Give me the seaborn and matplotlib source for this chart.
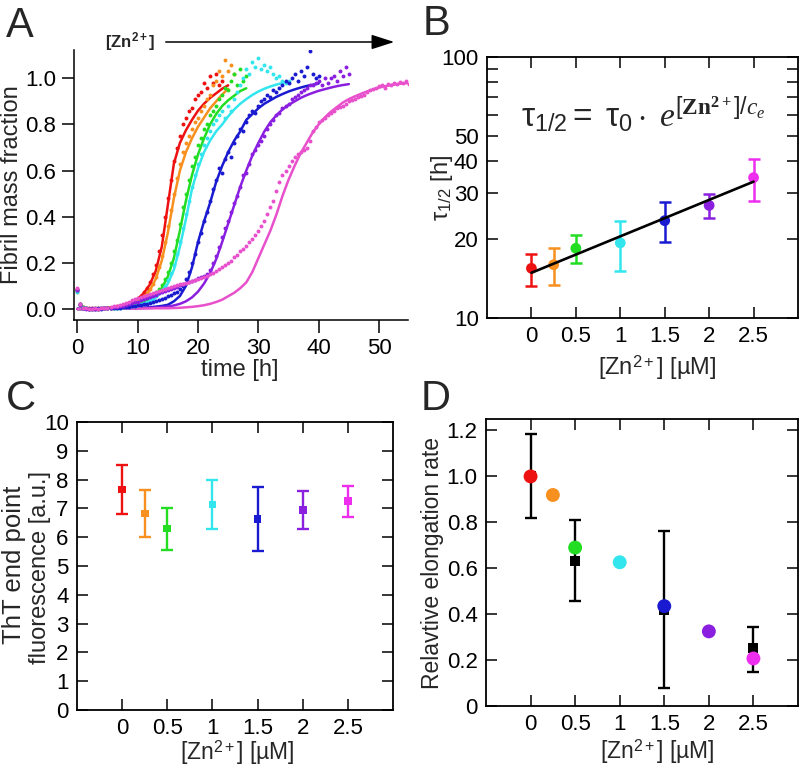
import numpy as np
import matplotlib
matplotlib.use('Agg')
import matplotlib.pyplot as plt
import matplotlib.ticker as mticker
import seaborn as sns

# --- colours, one per Zn2+ concentration ---
colors = ['#ee1111', '#f7901e', '#22dd22', '#33e6ee', '#1a1ad0', '#8b1fe0', '#ee2eee']
colors_a = ['#ee1111', '#f7901e', '#22dd22', '#33e6ee', '#1a1ad0', '#8b1fe0', '#e850cc']

# --- panel A: kinetic traces (0.5 h spacing) and fits (1 h spacing) ---
data_t = [i * 0.5 for i in range(111)]
fit_t = list(range(56))

red_data = [0.085, 0.02, 0.008, 0.004, 0.002, 0.0, 0.003, 0.001, 0.004, 0.003, 0.006, 0.005, 0.009, 0.011,
            0.014, 0.016, 0.021, 0.024, 0.031, 0.036, 0.046, 0.056, 0.072, 0.09, 0.115, 0.15, 0.19, 0.25,
            0.32, 0.40, 0.48, 0.56, 0.64, 0.70, 0.75, 0.80, 0.83, 0.86, 0.87, 0.91, 0.93, 0.94, 0.98, 0.96,
            1.01, 0.98, 1.02, 0.97, 0.99]
orange_data = [0.075, 0.018, 0.006, 0.003, 0.001, 0.002, 0.0, 0.003, 0.002, 0.004, 0.004, 0.006, 0.007, 0.009,
               0.011, 0.013, 0.016, 0.019, 0.024, 0.028, 0.035, 0.043, 0.055, 0.068, 0.085, 0.11, 0.14, 0.18,
               0.23, 0.29, 0.36, 0.43, 0.50, 0.57, 0.63, 0.68, 0.72, 0.75, 0.78, 0.81, 0.83, 0.86, 0.88, 0.91,
               0.93, 0.97, 0.99, 1.03, 1.01, 1.08, 1.03, 1.06, 1.02]
green_data = [0.08, 0.02, 0.007, 0.002, 0.001, 0.0, 0.002, 0.001, 0.003, 0.002, 0.003, 0.004, 0.005, 0.006,
              0.007, 0.009, 0.011, 0.013, 0.016, 0.019, 0.023, 0.028, 0.034, 0.041, 0.05, 0.06, 0.072, 0.087,
              0.105, 0.13, 0.16, 0.20, 0.25, 0.30, 0.37, 0.44, 0.50, 0.56, 0.62, 0.66, 0.71, 0.74, 0.78, 0.80,
              0.84, 0.86, 0.88, 0.91, 0.93, 0.96, 0.95, 0.99, 1.02, 0.97, 1.04, 0.99, 1.01]
cyan_data = [0.075, 0.018, 0.006, 0.002, 0.0, 0.001, 0.002, 0.0, 0.002, 0.003, 0.003, 0.004, 0.004, 0.005,
             0.006, 0.007, 0.009, 0.01, 0.012, 0.014, 0.017, 0.02, 0.025, 0.03, 0.037, 0.045, 0.055, 0.067,
             0.082, 0.10, 0.125, 0.155, 0.19, 0.24, 0.29, 0.35, 0.41, 0.47, 0.53, 0.58, 0.63, 0.67, 0.71, 0.74,
             0.77, 0.80, 0.82, 0.84, 0.86, 0.83, 0.88, 0.86, 0.91, 0.94, 0.97, 1.0, 1.04, 1.02, 1.07, 1.05,
             1.09, 1.04, 1.06, 1.03, 1.05, 1.02, 1.0, 1.01, 0.99, 0.98, 0.99]
blue_data = [0.08, 0.02, 0.006, 0.002, 0.0, 0.001, 0.0, 0.002, 0.001, 0.003, 0.002, 0.003, 0.004, 0.005,
             0.006, 0.007, 0.008, 0.01, 0.011, 0.013, 0.015, 0.017, 0.02, 0.023, 0.026, 0.03, 0.034, 0.038,
             0.043, 0.048, 0.054, 0.06, 0.067, 0.075, 0.085, 0.10, 0.13, 0.16, 0.20, 0.24, 0.29, 0.33, 0.38,
             0.42, 0.47, 0.52, 0.56, 0.61, 0.59, 0.65, 0.68, 0.66, 0.72, 0.75, 0.78, 0.77, 0.81, 0.84, 0.86,
             0.85, 0.88, 0.90, 0.91, 0.93, 0.92, 0.95, 0.94, 0.96, 0.97, 0.99, 0.98, 1.0, 1.02, 0.99, 1.03,
             1.01, 1.05, 1.12, 1.02, 1.0, 1.01]
purple_data = [0.08, 0.018, 0.005, 0.001, 0.0, 0.002, 0.001, 0.0, 0.002, 0.003, 0.004, 0.005, 0.007, 0.009,
               0.011, 0.014, 0.017, 0.02, 0.024, 0.028, 0.032, 0.037, 0.042, 0.047, 0.052, 0.057, 0.062, 0.067,
               0.072, 0.077, 0.082, 0.087, 0.092, 0.097, 0.102, 0.107, 0.112, 0.117, 0.122, 0.127, 0.132, 0.137,
               0.142, 0.15, 0.17, 0.20, 0.23, 0.27, 0.31, 0.35, 0.38, 0.42, 0.46, 0.49, 0.53, 0.58, 0.59, 0.63,
               0.67, 0.69, 0.71, 0.73, 0.75, 0.78, 0.80, 0.82, 0.84, 0.85, 0.87, 0.88, 0.89, 0.91, 0.92, 0.93,
               0.94, 0.95, 0.96, 0.97, 0.97, 0.98, 0.99, 0.97, 1.0, 0.98, 1.0, 1.01, 0.99, 1.03, 1.01, 1.05, 1.02]
magenta_data = [0.09, 0.02, 0.006, 0.002, 0.001, 0.0, 0.002, 0.001, 0.003, 0.004, 0.006, 0.008, 0.011, 0.014,
                0.018, 0.022, 0.027, 0.032, 0.037, 0.042, 0.047, 0.052, 0.057, 0.062, 0.066, 0.07, 0.074, 0.078,
                0.082, 0.086, 0.09, 0.094, 0.098, 0.102, 0.106, 0.11, 0.114, 0.118, 0.122, 0.126, 0.13, 0.134,
                0.139, 0.144, 0.15, 0.157, 0.165, 0.173, 0.182, 0.19, 0.20, 0.21, 0.225, 0.235, 0.25, 0.26,
                0.275, 0.29, 0.305, 0.32, 0.34, 0.36, 0.38, 0.41, 0.44, 0.47, 0.51, 0.55, 0.58, 0.60, 0.62, 0.64,
                0.66, 0.67, 0.68, 0.69, 0.70, 0.73, 0.77, 0.79, 0.81, 0.82, 0.83, 0.84, 0.85, 0.86, 0.87, 0.875,
                0.88, 0.89, 0.90, 0.905, 0.91, 0.92, 0.925, 0.93, 0.94, 0.95, 0.955, 0.96, 0.965, 0.97, 0.96,
                0.975, 0.97, 0.98, 0.975, 0.985, 0.98, 0.99, 0.975]

red_fit = [0.0, 0.0, 0.0, 0.002, 0.003, 0.005, 0.008, 0.012, 0.018, 0.028, 0.043, 0.068, 0.105, 0.165, 0.27,
           0.45, 0.63, 0.72, 0.775, 0.82, 0.86, 0.89, 0.915, 0.935, 0.955, 0.97]
orange_fit = [0.0, 0.0, 0.0, 0.002, 0.003, 0.004, 0.006, 0.009, 0.013, 0.02, 0.032, 0.05, 0.08, 0.13, 0.21,
              0.33, 0.48, 0.60, 0.68, 0.74, 0.79, 0.83, 0.87, 0.90, 0.93, 0.955]
green_fit = [0.0, 0.0, 0.0, 0.001, 0.002, 0.003, 0.004, 0.006, 0.009, 0.013, 0.02, 0.03, 0.042, 0.06, 0.09,
             0.14, 0.22, 0.34, 0.47, 0.58, 0.67, 0.74, 0.80, 0.845, 0.88, 0.905, 0.925, 0.945, 0.957]
cyan_fit = [0.0, 0.0, 0.0, 0.001, 0.001, 0.002, 0.003, 0.004, 0.006, 0.009, 0.012, 0.02, 0.032, 0.05, 0.075,
            0.11, 0.17, 0.27, 0.39, 0.52, 0.61, 0.68, 0.73, 0.77, 0.80, 0.835, 0.865, 0.89, 0.91, 0.928,
            0.943, 0.955, 0.965, 0.973, 0.98, 0.985]
blue_fit = [0.0, 0.0, 0.0, 0.0, 0.001, 0.001, 0.001, 0.002, 0.002, 0.003, 0.004, 0.005, 0.007, 0.01, 0.013,
            0.018, 0.033, 0.056, 0.10, 0.18, 0.29, 0.38, 0.46, 0.55, 0.62, 0.68, 0.73, 0.77, 0.82, 0.845,
            0.87, 0.89, 0.905, 0.92, 0.932, 0.943, 0.952, 0.96, 0.967, 0.972, 0.978]
purple_fit = [0.0, 0.0, 0.0, 0.0, 0.001, 0.001, 0.001, 0.001, 0.002, 0.002, 0.003, 0.004, 0.005, 0.006, 0.008,
              0.01, 0.015, 0.022, 0.033, 0.05, 0.075, 0.11, 0.155, 0.215, 0.29, 0.37, 0.45, 0.53, 0.60, 0.665,
              0.72, 0.77, 0.81, 0.84, 0.865, 0.885, 0.90, 0.915, 0.927, 0.937, 0.946, 0.953, 0.96, 0.966,
              0.971, 0.975]
magenta_fit = [0.0, 0.0, 0.0, 0.0, 0.0, 0.001, 0.001, 0.001, 0.001, 0.001, 0.002, 0.002, 0.002, 0.003, 0.003,
               0.003, 0.004, 0.005, 0.007, 0.009, 0.012, 0.016, 0.022, 0.03, 0.04, 0.055, 0.07, 0.09, 0.115,
               0.16, 0.22, 0.28, 0.34, 0.41, 0.49, 0.56, 0.62, 0.675, 0.72, 0.765, 0.80, 0.83, 0.855, 0.875,
               0.895, 0.91, 0.922, 0.933, 0.943, 0.952, 0.96, 0.966, 0.971, 0.975, 0.978, 0.98]

traces = [red_data, orange_data, green_data, cyan_data, blue_data, purple_data, magenta_data]
fits = [red_fit, orange_fit, green_fit, cyan_fit, blue_fit, purple_fit, magenta_fit]

# --- panels B-D: concentration series ---
conc = [0, 0.25, 0.5, 1, 1.5, 2, 2.5]
conc_names = ['0', '0.25', '0.5', '1', '1.5', '2', '2.5']
xtick_vals = [0, 0.5, 1, 1.5, 2, 2.5]
xtick_labels = ['0', '0.5', '1', '1.5', '2', '2.5']

tau_half = [15.5, 16.0, 18.5, 19.4, 23.6, 27.0, 34.5]
tau_lo = [13.3, 13.4, 16.2, 15.2, 19.6, 24.2, 28.0]
tau_hi = [17.6, 18.6, 20.8, 23.6, 27.8, 29.9, 40.8]
tau_fit_x = [0, 2.5]
tau_fit_y = [14.9, 33.3]

tht = [7.66, 6.82, 6.30, 7.13, 6.64, 6.94, 7.25]
tht_lo = [6.82, 6.01, 5.57, 6.28, 5.51, 6.28, 6.71]
tht_hi = [8.50, 7.65, 7.03, 8.00, 7.75, 7.61, 7.79]

elong = [1.0, 0.919, 0.690, 0.626, 0.435, 0.325, 0.207]
elong_exp_x = [0, 0.5, 1.5, 2.5]
elong_exp = [1.0, 0.632, 0.417, 0.251]
elong_exp_lo = [0.819, 0.458, 0.077, 0.149]
elong_exp_hi = [1.183, 0.809, 0.761, 0.342]

sns.set_style('ticks')
plt.rcParams['font.family'] = ['Liberation Sans', 'DejaVu Sans']
plt.rcParams['mathtext.fontset'] = 'custom'
plt.rcParams['mathtext.rm'] = 'Liberation Sans'
plt.rcParams['mathtext.it'] = 'Liberation Serif:italic'
plt.rcParams['mathtext.bf'] = 'Liberation Sans:bold'
plt.rcParams['mathtext.sf'] = 'Liberation Serif:bold'
plt.rcParams['axes.linewidth'] = 1.1
plt.rcParams['axes.edgecolor'] = 'black'

W, H = 802, 770
fig = plt.figure(figsize=(W / 100, H / 100), dpi=100)


def box(l, t, r, b):
    return [l / W, 1 - b / H, (r - l) / W, (b - t) / H]


def ftxt(x, y, s, **kw):
    fig.text(x / W, 1 - y / H, s, **kw)


def place_labels(ax, xl, yl, xpos, ypos, size=16):
    # xpos / ypos are label centres in axes fractions
    if xl:
        ax.set_xlabel(xl, fontsize=size)
        ax.xaxis.set_label_coords(*xpos)
        ax.xaxis.label.set_va('center')
    if yl:
        ax.set_ylabel(yl, fontsize=size)
        ax.yaxis.set_label_coords(*ypos)
        ax.yaxis.label.set_va('center')


zn_label = r'[Zn$^{2+}$] [µM]'

# ---------------- A ----------------
axA = fig.add_axes(box(74, 50, 408, 320))
for i in range(7):
    n = len(fits[i])
    sns.lineplot(x=fit_t[:n], y=fits[i], color=colors_a[i], lw=1.8, ax=axA, zorder=2)
for i in range(7):
    n = len(traces[i])
    sns.scatterplot(x=data_t[:n], y=traces[i], color=colors_a[i], s=8, linewidth=0, ax=axA, zorder=3)
axA.set_xlim(-0.55, 54.8)
axA.set_ylim(-0.048, 1.123)
axA.set_xticks([0, 10, 20, 30, 40, 50])
axA.set_yticks([0, 0.2, 0.4, 0.6, 0.8, 1.0])
axA.yaxis.set_major_formatter(mticker.FormatStrFormatter('%.1f'))
axA.tick_params(direction='out', length=9, width=1.1, pad=4, labelsize=16, colors='black')
sns.despine(ax=axA)
place_labels(axA, 'time [h]', 'Fibril mass fraction', (0.497, -0.185), (-0.186, 0.5), size=17)
ftxt(130, 42, r'$\mathbf{[Zn^{2+}]}$', fontsize=12, ha='center', va='center')
fig.add_artist(matplotlib.patches.FancyArrowPatch(
    (163 / W, 1 - 42 / H), (397 / W, 1 - 42 / H), transform=fig.transFigure,
    arrowstyle='-|>,head_length=14,head_width=4.5', color='black', lw=1.1))

# ---------------- B ----------------
axB = fig.add_axes(box(487, 57, 798, 318))
for i in range(7):
    axB.errorbar(conc[i], tau_half[i], yerr=[[tau_half[i] - tau_lo[i]], [tau_hi[i] - tau_half[i]]],
                 fmt='none', ecolor=colors[i], elinewidth=1.8, capsize=4, capthick=1.8, zorder=2)
sns.scatterplot(x=conc, y=tau_half, hue=conc_names, palette=colors, s=60, linewidth=0,
                legend=False, ax=axB, zorder=3)
sns.lineplot(x=tau_fit_x, y=tau_fit_y, color='black', lw=1.9, ax=axB, zorder=4)
axB.set_yscale('log')
axB.set_xlim(-0.5, 3.0)
axB.set_ylim(10, 100)
axB.yaxis.set_major_locator(mticker.FixedLocator([10, 20, 30, 40, 50, 100]))
axB.yaxis.set_major_formatter(mticker.FixedFormatter(['10', '20', '30', '40', '50', '100']))
axB.yaxis.set_minor_locator(mticker.FixedLocator([60, 70, 80, 90]))
axB.yaxis.set_minor_formatter(mticker.NullFormatter())
place_labels(axB, zn_label, r'τ$_{1/2}$ [h]', (0.547, -0.19), (-0.145, 0.5), size=17)
ftxt(521, 126, r'$\mathrm{τ_{1/2}=\ τ_0\cdot}\ \mathit{e}^{[\mathsf{Zn}^{\mathsf{2+}}]/\mathit{c_e}}$',
     fontsize=24, ha='left', va='baseline')

# ---------------- C ----------------
axC = fig.add_axes(box(77, 422, 393, 710))
for i in range(7):
    axC.errorbar(conc[i], tht[i], yerr=[[tht[i] - tht_lo[i]], [tht_hi[i] - tht[i]]],
                 fmt='none', ecolor=colors[i], elinewidth=1.7, capsize=4, capthick=1.7, zorder=2)
sns.scatterplot(x=conc, y=tht, hue=conc_names, palette=colors, marker='s', s=30, linewidth=0,
                legend=False, ax=axC, zorder=3)
axC.set_xlim(-0.5, 3.0)
axC.set_ylim(0, 10)
axC.set_yticks(range(11))
place_labels(axC, zn_label, None, (0.506, -0.148), None, size=16.5)
ftxt(14, 565, 'ThT end point', fontsize=18.5, rotation=90, ha='center', va='center')
ftxt(40, 567, 'fluorescence [a.u.]', fontsize=17, rotation=90, ha='center', va='center')

# ---------------- D ----------------
axD = fig.add_axes(box(486, 419, 798, 706))
axD.errorbar(elong_exp_x, elong_exp,
             yerr=[np.subtract(elong_exp, elong_exp_lo), np.subtract(elong_exp_hi, elong_exp)],
             fmt='none', ecolor='black', elinewidth=1.7, capsize=4, capthick=1.7, zorder=2)
sns.scatterplot(x=elong_exp_x, y=elong_exp, color='black', marker='s', s=42, linewidth=0,
                ax=axD, zorder=3)
sns.scatterplot(x=conc, y=elong, hue=conc_names, palette=colors, s=100, linewidth=0,
                legend=False, ax=axD, zorder=4)
axD.set_xlim(-0.5, 3.0)
axD.set_ylim(0, 1.25)
axD.set_yticks([0, 0.2, 0.4, 0.6, 0.8, 1.0, 1.2])
axD.set_yticklabels(['0', '0.2', '0.4', '0.6', '0.8', '1.0', '1.2'])
place_labels(axD, zn_label, 'Relavtive elongation rate', (0.548, -0.16), (-0.173, 0.498), size=16.5)

for ax in (axB, axC, axD):
    ax.set_xticks(xtick_vals)
    ax.set_xticklabels(xtick_labels)
    for s in ax.spines.values():
        s.set_visible(True)
        s.set_linewidth(1.3)
    ax.tick_params(which='both', direction='in', top=True, right=True, length=8, width=1.1,
                   pad=6, labelsize=16, colors='black')

# panel letters
ftxt(6, 37, 'A', fontsize=30)
ftxt(423, 35, 'B', fontsize=30)
ftxt(6, 410, 'C', fontsize=30)
ftxt(421, 410, 'D', fontsize=30)

fig.savefig('out.png', dpi=100)
